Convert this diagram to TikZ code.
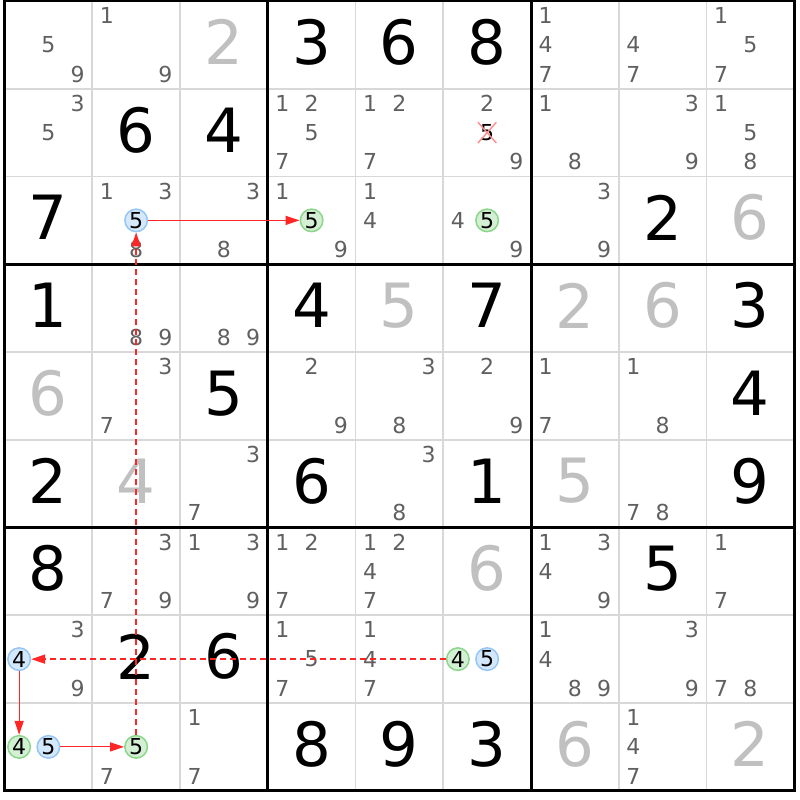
\documentclass[tikz,border=0pt]{standalone}
\usepackage{fontspec}
\setmainfont{DejaVu Sans}
\usepackage{tikz}
\usetikzlibrary{arrows.meta}
\usetikzlibrary{shapes.misc}
\definecolor{candgray}{RGB}{96,96,96}
\definecolor{placedgray}{RGB}{192,192,192}
\definecolor{thingray}{RGB}{216,216,216}
\definecolor{bluefill}{RGB}{212,232,252}
\definecolor{bluedraw}{RGB}{150,198,244}
\definecolor{greenfill}{RGB}{212,240,212}
\definecolor{greendraw}{RGB}{140,214,140}
\begin{document}
\begin{tikzpicture}[x=87.75pt, y=-87.75pt,
    given/.style={font=\fontsize{61}{61}\selectfont, text=black, inner sep=0pt},
    placed/.style={font=\fontsize{61}{61}\selectfont, text=placedgray, inner sep=0pt},
    cand/.style={font=\fontsize{22}{22}\selectfont, text=candgray, inner sep=0pt},
    bluecand/.style={circle, draw=bluedraw, fill=bluefill, line width=1.5pt, minimum size=22.5pt, inner sep=0pt, font=\fontsize{22}{22}\selectfont},
    greencand/.style={circle, draw=greendraw, fill=greenfill, line width=1.5pt, minimum size=22.5pt, inner sep=0pt, font=\fontsize{22}{22}\selectfont},
    strong/.style={draw=red!85, line width=1.2pt, -{Triangle[length=14pt,width=9pt]}},
    weak/.style={draw=red!85, line width=1.5pt, dash pattern=on 6pt off 4pt, -{Triangle[length=14pt,width=9pt]}}]
    \useasboundingbox[fill=white] (-0.0513,-0.0114) rectangle (9.0655,9.1054);
    % grid
    \foreach \i in {1,2,4,5,7,8} {
        \draw[thingray, line width=1.7pt] (\i,0) -- (\i,9);
        \draw[thingray, line width=1.7pt] (0,\i) -- (9,\i);
    }
    \foreach \i in {3,6} {
        \draw[black, line width=3pt] (\i,0) -- (\i,9);
        \draw[black, line width=3pt] (0,\i) -- (9,\i);
    }
    \draw[black, line width=3pt] (0,0) rectangle (9,9);
    % given digits
    \foreach \r/\c/\d in {0/3/3, 0/4/6, 0/5/8, 1/1/6, 1/2/4, 2/0/7, 2/7/2,
        3/0/1, 3/3/4, 3/5/7, 3/8/3, 4/2/5, 4/8/4, 5/0/2, 5/3/6, 5/5/1, 5/8/9,
        6/0/8, 6/7/5, 7/1/2, 7/2/6, 8/3/8, 8/4/9, 8/5/3}
        \node[given] at (\c+0.5,\r+0.47) {\d};
    % placed digits
    \foreach \r/\c/\d in {0/2/2, 2/8/6, 3/4/5, 3/6/2, 3/7/6, 4/0/6, 5/1/4,
        5/6/5, 6/5/6, 8/6/6, 8/8/2}
        \node[placed] at (\c+0.5,\r+0.47) {\d};
    % candidates
    \foreach \r/\c/\d in {0/0/5, 0/0/9, 0/1/1, 0/1/9, 0/6/1, 0/6/4, 0/6/7,
        0/7/4, 0/7/7, 0/8/1, 0/8/5, 0/8/7,
        1/0/3, 1/0/5, 1/3/1, 1/3/2, 1/3/5, 1/3/7, 1/4/1, 1/4/2, 1/4/7,
        1/5/2, 1/5/9, 1/6/1, 1/6/8, 1/7/3, 1/7/9, 1/8/1, 1/8/5, 1/8/8,
        2/1/1, 2/1/3, 2/1/8, 2/2/3, 2/2/8, 2/3/1, 2/3/9, 2/4/1, 2/4/4,
        2/5/4, 2/5/9, 2/6/3, 2/6/9,
        3/1/8, 3/1/9, 3/2/8, 3/2/9,
        4/1/3, 4/1/7, 4/3/2, 4/3/9, 4/4/3, 4/4/8, 4/5/2, 4/5/9, 4/6/1,
        4/6/7, 4/7/1, 4/7/8,
        5/2/3, 5/2/7, 5/4/3, 5/4/8, 5/7/7, 5/7/8,
        6/1/3, 6/1/7, 6/1/9, 6/2/1, 6/2/3, 6/2/9, 6/3/1, 6/3/2, 6/3/7,
        6/4/1, 6/4/2, 6/4/4, 6/4/7, 6/6/1, 6/6/3, 6/6/4, 6/6/9, 6/8/1, 6/8/7,
        7/0/3, 7/0/9, 7/3/1, 7/3/5, 7/3/7, 7/4/1, 7/4/4, 7/4/7, 7/6/1,
        7/6/4, 7/6/8, 7/6/9, 7/7/3, 7/7/9, 7/8/7, 7/8/8,
        8/1/7, 8/2/1, 8/2/7, 8/7/1, 8/7/4, 8/7/7}
        \node[cand] at ({\c+(1+2*mod(\d-1,3))/6},{\r+(1+2*floor((\d-1)/3))/6}) {\d};
    % eliminated candidate
    \node[cand, text=black, cross out, draw=red!45, line width=1.4pt, inner sep=1.5pt] (x15) at (5.5,1.5) {5};
    % chain candidates
    \node[bluecand] (b21) at (1.5,2.5) {5};
    \node[greencand] (g23) at (3.5,2.5) {5};
    \node[greencand] (g25) at (5.5,2.5) {5};
    \node[bluecand] (b70) at (0.1667,7.5) {4};
    \node[greencand] (g75) at (5.1667,7.5) {4};
    \node[bluecand] (b75) at (5.5,7.5) {5};
    \node[greencand] (g80) at (0.1667,8.5) {4};
    \node[bluecand] (b80) at (0.5,8.5) {5};
    \node[greencand] (g81) at (1.5,8.5) {5};
    % links
    \draw[strong] (b21) -- (g23);
    \draw[weak] (g81) -- (b21);
    \draw[weak] (g75) -- (b70);
    \draw[strong] (b70) -- (g80);
    \draw[strong] (b80) -- (g81);
\end{tikzpicture}
\end{document}
